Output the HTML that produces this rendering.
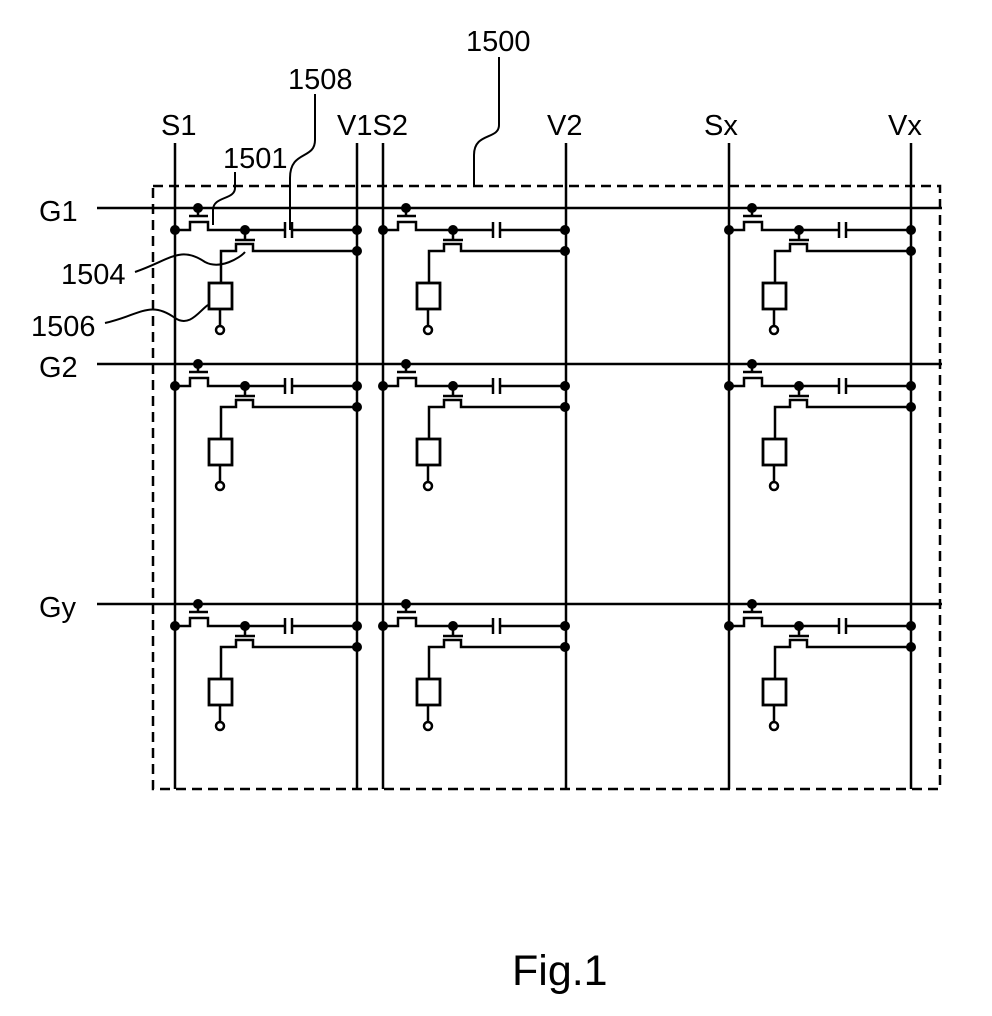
<!DOCTYPE html>
<html><head><meta charset="utf-8"><style>
html,body{margin:0;padding:0;background:#fff;}
svg{display:block;}
text{font-family:"Liberation Sans",Arial,sans-serif;fill:#000;}
</style></head><body>
<svg width="992" height="1016" viewBox="0 0 992 1016" xmlns="http://www.w3.org/2000/svg">
<defs>
<g id="c" stroke="#000" stroke-width="2.5" fill="none">
  <circle cx="23" cy="0" r="5" fill="#000" stroke="none"/>
  <line x1="23" y1="0" x2="23" y2="8"/>
  <line x1="14" y1="8" x2="33" y2="8"/>
  <path d="M0,22 H15 V14 H33 V22 H110"/>
  <line x1="110" y1="14" x2="110" y2="30"/>
  <line x1="117" y1="14" x2="117" y2="30"/>
  <line x1="117" y1="22" x2="182" y2="22"/>
  <circle cx="0" cy="22" r="5" fill="#000" stroke="none"/>
  <circle cx="70" cy="22" r="5" fill="#000" stroke="none"/>
  <circle cx="182" cy="22" r="5" fill="#000" stroke="none"/>
  <circle cx="182" cy="43" r="5" fill="#000" stroke="none"/>
  <line x1="70" y1="22" x2="70" y2="32"/>
  <line x1="60" y1="32" x2="80" y2="32"/>
  <path d="M46,75 V43 H61 V36 H78 V43 H182"/>
  <rect x="34" y="75" width="23" height="26" stroke-width="2.8"/>
  <line x1="45" y1="101" x2="45" y2="118"/>
  <circle cx="45" cy="122" r="4" fill="#fff"/>
</g>
</defs>

<rect x="153" y="186" width="787" height="603" fill="none" stroke="#000" stroke-width="2.5" stroke-dasharray="10,6"/>

<g stroke="#000" stroke-width="2.5">
  <line x1="175" y1="143" x2="175" y2="789"/>
  <line x1="357" y1="143" x2="357" y2="789"/>
  <line x1="383" y1="143" x2="383" y2="789"/>
  <line x1="566" y1="143" x2="566" y2="789"/>
  <line x1="729" y1="143" x2="729" y2="789"/>
  <line x1="911" y1="143" x2="911" y2="789"/>
  <line x1="97" y1="208" x2="942" y2="208"/>
  <line x1="97" y1="364" x2="942" y2="364"/>
  <line x1="97" y1="604" x2="942" y2="604"/>
</g>

<use href="#c" x="175" y="208"/>
<use href="#c" x="383" y="208"/>
<use href="#c" x="729" y="208"/>
<use href="#c" x="175" y="364"/>
<use href="#c" x="383" y="364"/>
<use href="#c" x="729" y="364"/>
<use href="#c" x="175" y="604"/>
<use href="#c" x="383" y="604"/>
<use href="#c" x="729" y="604"/>

<g stroke="#000" stroke-width="2" fill="none">
  <path d="M499,57 V125 C499,140 474,132 474,155 V186"/>
  <path d="M315,94 V140 C315,160 290,150 290,178 V230"/>
  <path d="M235,172 V188 C235,200 213,196 213,210 V225"/>
  <path d="M135,272 C170,260 180,245 205,262 C220,270 240,258 245,252"/>
  <path d="M105,323 C140,315 150,300 175,318 C190,328 200,310 208,305"/>
</g>

<g font-size="29">
  <text x="466" y="51">1500</text>
  <text x="288" y="89">1508</text>
  <text x="161" y="135">S1</text>
  <text x="337" y="135">V1S2</text>
  <text x="547" y="135">V2</text>
  <text x="704" y="135">Sx</text>
  <text x="888" y="135">Vx</text>
  <text x="223" y="168">1501</text>
  <text x="39" y="221">G1</text>
  <text x="61" y="284">1504</text>
  <text x="31" y="336">1506</text>
  <text x="39" y="377">G2</text>
  <text x="39" y="617">Gy</text>
</g>
<text x="512" y="985" font-size="43">Fig.1</text>
</svg>
</body></html>
